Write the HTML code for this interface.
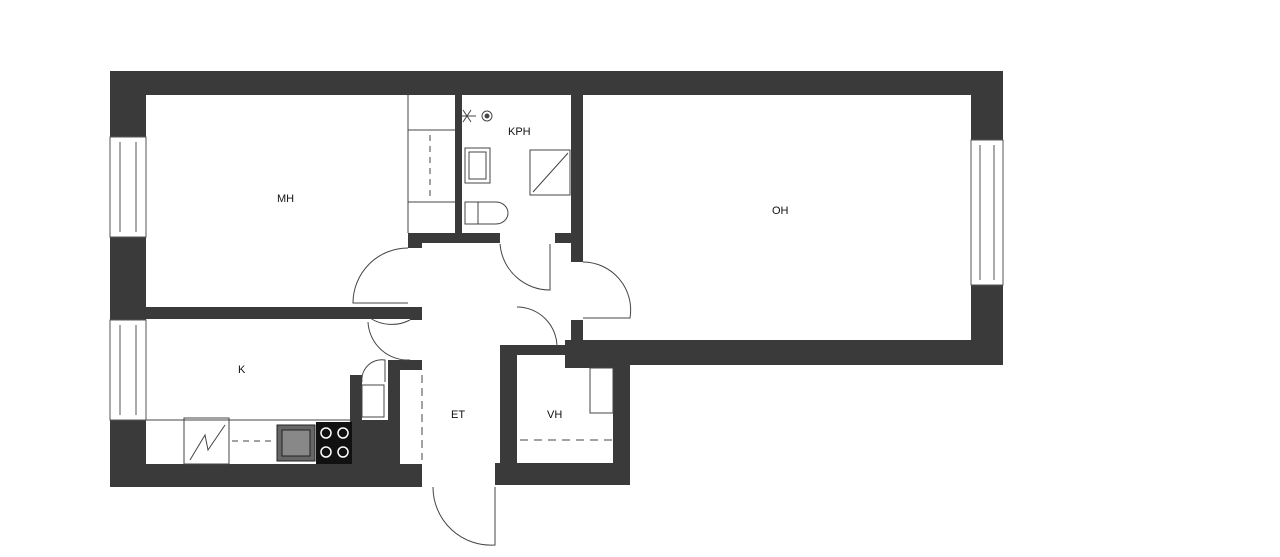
<!DOCTYPE html>
<html><head><meta charset="utf-8"><style>
html,body{margin:0;padding:0;background:#fff;width:1280px;height:557px;overflow:hidden}
svg text{font-family:"Liberation Sans",sans-serif;font-size:11px;fill:#111}
</style></head><body>
<svg width="1280" height="557" viewBox="0 0 1280 557" xmlns="http://www.w3.org/2000/svg">
<g fill="#3a3a3a">
<rect x="110" y="71" width="893" height="24"/>
<rect x="110" y="71" width="36" height="416"/>
<rect x="971" y="71" width="32" height="294"/>
<rect x="565" y="340" width="438" height="25"/>
<rect x="110" y="464" width="312" height="23"/>
<rect x="495" y="463" width="135" height="22"/>
<rect x="613" y="365" width="17" height="120"/>
<rect x="146" y="307" width="276" height="12"/>
<rect x="455" y="95" width="7" height="143"/>
<rect x="571" y="95" width="12" height="150"/>
<rect x="408" y="233" width="92" height="10"/>
<rect x="555" y="233" width="28" height="10"/>
<rect x="408" y="243" width="14" height="5"/>
<rect x="500" y="345" width="17" height="120"/>
<rect x="500" y="345" width="65" height="10"/>
<rect x="565" y="340" width="18" height="28"/>
<rect x="565" y="355" width="50" height="13"/>
<rect x="350" y="375" width="12" height="45"/>
<rect x="388" y="360" width="34" height="10"/>
<rect x="388" y="360" width="12" height="127"/>
<rect x="350" y="420" width="50" height="67"/>
<rect x="410" y="319" width="12" height="45"/>
<rect x="571" y="245" width="12" height="100"/>
</g>
<g fill="#fff" stroke="#555" stroke-width="1">
<rect x="110" y="137" width="36" height="100"/>
<line x1="120" y1="142" x2="120" y2="232"/><line x1="136" y1="142" x2="136" y2="232"/>
<rect x="110" y="320" width="36" height="100"/>
<line x1="120" y1="325" x2="120" y2="415"/><line x1="136" y1="325" x2="136" y2="415"/>
<rect x="971" y="140" width="32" height="145"/>
<line x1="980" y1="145" x2="980" y2="280"/><line x1="994" y1="145" x2="994" y2="280"/>
</g>
<g fill="#fff">
<rect x="500" y="232" width="55" height="12"/>
<rect x="571" y="262" width="12" height="58"/>
<rect x="408" y="248" width="14" height="55"/>
<rect x="410" y="320" width="12" height="40"/>
<rect x="425" y="463" width="70" height="24"/>
<rect x="517" y="300" width="48" height="45"/>
<rect x="362" y="375" width="26" height="45"/>
</g>
<g fill="none" stroke="#444" stroke-width="1">
<line x1="408" y1="130" x2="455" y2="130"/><line x1="408" y1="202" x2="455" y2="202"/>
<line x1="430" y1="135" x2="430" y2="198" stroke-dasharray="6,5"/>
<line x1="408" y1="95" x2="408" y2="233"/>
<path d="M408 248 A55 55 0 0 0 353 303 L408 303"/>
<path d="M500 244 A50 50 0 0 0 550 290 L550 244"/>
<path d="M583 262 A48 48 0 0 1 630 318 L583 318"/>
<path d="M517 307 A40 40 0 0 1 557 347"/>
<path d="M410 320 A40 40 0 0 1 370 318" />
<path d="M368 322 A40 40 0 0 0 410 360"/>
<path d="M362 382 A20 20 0 0 1 385 360 L385 382"/>
<path d="M495 487 L495 545 A58 58 0 0 1 433 487"/>
<rect x="362" y="385" width="22" height="32"/>
<line x1="422" y1="375" x2="422" y2="460" stroke-dasharray="8,5"/>
<rect x="590" y="368" width="23" height="45"/>
<line x1="520" y1="440" x2="612" y2="440" stroke-dasharray="8,6"/>
<rect x="465" y="148" width="25" height="35"/><rect x="469" y="152" width="17" height="27"/>
<rect x="530" y="150" width="40" height="45"/><line x1="533" y1="192" x2="568" y2="153"/>
<path d="M478 202 h18 a12 11 0 0 1 0 22 h-18 z"/><rect x="465" y="202" width="13" height="22"/>
<circle cx="487" cy="116" r="5"/><circle cx="487" cy="116" r="2" fill="#444"/>
<path d="M463 110 l8 12 M471 110 l-8 12 M462 116 h14"/>
<line x1="146" y1="420" x2="350" y2="420"/>
<rect x="184" y="418" width="45" height="46"/><path d="M190 460 L205 435 L208 450 L225 425"/>
<line x1="232" y1="441" x2="272" y2="441" stroke-dasharray="6,5"/>
</g>
<rect x="277" y="425" width="38" height="36" fill="#666" stroke="#222"/>
<rect x="282" y="430" width="28" height="26" fill="#888" stroke="#222"/>
<rect x="316" y="422" width="36" height="42" fill="#111"/>
<g fill="none" stroke="#fff" stroke-width="1.5">
<circle cx="326" cy="433" r="5"/><circle cx="343" cy="433" r="5"/>
<circle cx="326" cy="452" r="5"/><circle cx="343" cy="452" r="5"/>
</g>
<text x="277" y="202">MH</text>
<text x="508" y="135">KPH</text>
<text x="772" y="214">OH</text>
<text x="238" y="373">K</text>
<text x="451" y="418">ET</text>
<text x="547" y="418">VH</text>
</svg>
</body></html>
